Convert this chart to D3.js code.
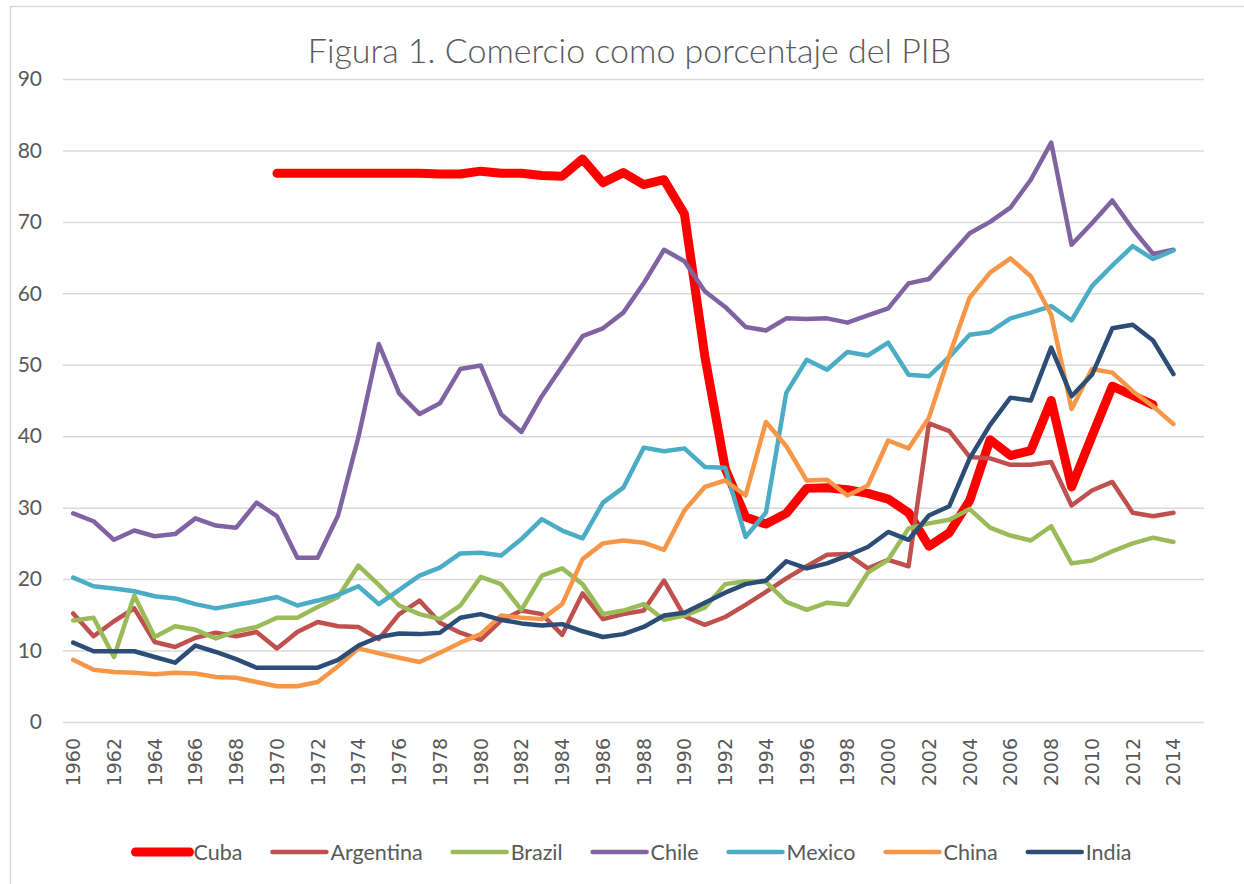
<!DOCTYPE html>
<html>
<head>
<meta charset="utf-8">
<script src="https://cdn.jsdelivr.net/npm/d3@7/dist/d3.min.js"></script>
<style>
  body { margin: 0; background: #fff; }
  text { fill: #595959; }
</style>
</head>
<body>
<div id="chart"></div>
<script>
// years on the category axis (2015 is an empty category in the original sheet)
var years = d3.range(1960, 2016);
var tickYears = d3.range(1960, 2015, 2);
var yTicks = [0, 10, 20, 30, 40, 50, 60, 70, 80, 90];

var countries = ["Cuba", "Argentina", "Brazil", "Chile", "Mexico", "China", "India"];
var colors = ["#FF0000", "#C0504D", "#9BBB59", "#8064A2", "#4BACC6", "#F79646", "#2C4D75"];

// trade as % of GDP, 1960..2014
var cuba = [null, null, null, null, null, null, null, null, null, null,
  76.8, 76.8, 76.8, 76.8, 76.8, 76.8, 76.8, 76.8, 76.7, 76.7,
  77.1, 76.8, 76.8, 76.5, 76.4, 78.8, 75.5, 76.9, 75.2, 75.9,
  71.1, 51.2, 35.5, 28.7, 27.7, 29.2, 32.7, 32.8, 32.5, 32.0,
  31.2, 29.3, 24.6, 26.5, 31.0, 39.5, 37.3, 38.0, 45.0, 32.9,
  40.0, 47.0, 45.7, 44.4, null];
var argentina = [15.2, 12.0, 14.1, 15.9, 11.2, 10.5, 11.8, 12.5, 12.0, 12.6,
  10.3, 12.6, 14.0, 13.4, 13.3, 11.6, 15.1, 17.0, 13.9, 12.5,
  11.5, 14.2, 15.6, 15.1, 12.2, 18.0, 14.4, 15.1, 15.6, 19.8,
  14.8, 13.6, 14.7, 16.4, 18.2, 20.1, 21.8, 23.4, 23.5, 21.5,
  22.7, 21.8, 41.8, 40.7, 37.1, 36.9, 36.0, 36.0, 36.4, 30.3,
  32.4, 33.6, 29.3, 28.8, 29.3];
var brazil = [14.2, 14.6, 9.1, 17.7, 11.9, 13.4, 12.9, 11.7, 12.7, 13.3,
  14.6, 14.6, 16.1, 17.5, 21.9, 19.2, 16.3, 15.1, 14.4, 16.3,
  20.3, 19.3, 15.7, 20.5, 21.5, 19.3, 15.1, 15.6, 16.5, 14.3,
  14.9, 16.0, 19.3, 19.7, 19.6, 16.8, 15.7, 16.7, 16.4, 20.9,
  22.7, 27.1, 27.8, 28.3, 29.8, 27.2, 26.1, 25.4, 27.4, 22.2,
  22.6, 23.9, 25.0, 25.8, 25.2];
var chile = [29.2, 28.1, 25.5, 26.8, 26.0, 26.3, 28.5, 27.5, 27.2, 30.7,
  28.8, 23.0, 23.0, 28.9, 39.9, 52.9, 46.0, 43.1, 44.6, 49.4,
  49.9, 43.1, 40.6, 45.6, 49.8, 54.0, 55.1, 57.3, 61.4, 66.1,
  64.5, 60.3, 58.1, 55.3, 54.8, 56.5, 56.4, 56.5, 55.9, 56.9,
  57.9, 61.4, 62.0, 65.2, 68.4, 70.0, 72.0, 75.9, 81.1, 66.8,
  69.8, 73.0, 69.0, 65.5, 66.1];
var mexico = [20.2, 19.0, 18.7, 18.3, 17.6, 17.3, 16.5, 15.9, 16.4, 16.9,
  17.5, 16.3, 17.0, 17.8, 19.0, 16.5, 18.5, 20.5, 21.6, 23.6,
  23.7, 23.3, 25.6, 28.4, 26.8, 25.7, 30.7, 32.8, 38.4, 37.9,
  38.3, 35.7, 35.6, 25.9, 29.3, 46.1, 50.7, 49.3, 51.8, 51.3,
  53.1, 48.6, 48.4, 51.1, 54.2, 54.6, 56.5, 57.3, 58.2, 56.2,
  61.0, 63.9, 66.6, 64.8, 66.0];
var china = [8.7, 7.3, 7.0, 6.9, 6.7, 6.9, 6.8, 6.3, 6.2, 5.6,
  5.0, 5.0, 5.6, 7.8, 10.3, 9.6, 9.0, 8.4, 9.7, 11.1,
  12.3, 14.9, 14.6, 14.4, 16.5, 22.8, 25.0, 25.4, 25.1, 24.1,
  29.6, 32.9, 33.8, 31.7, 42.0, 38.6, 33.8, 33.9, 31.7, 33.1,
  39.4, 38.3, 42.6, 51.3, 59.4, 62.9, 64.9, 62.4, 57.0, 43.8,
  49.4, 48.9, 46.3, 44.2, 41.7];
var india = [11.1, 9.9, 9.9, 9.9, 9.1, 8.3, 10.7, 9.8, 8.8, 7.6,
  7.6, 7.6, 7.6, 8.7, 10.7, 11.9, 12.4, 12.3, 12.5, 14.6,
  15.1, 14.3, 13.8, 13.5, 13.7, 12.7, 11.9, 12.3, 13.3, 14.9,
  15.3, 16.7, 18.1, 19.3, 19.8, 22.5, 21.5, 22.2, 23.3, 24.5,
  26.6, 25.5, 28.9, 30.2, 36.9, 41.6, 45.4, 45.0, 52.4, 45.6,
  48.6, 55.1, 55.6, 53.4, 48.7];

var seriesValues = [cuba, argentina, brazil, chile, mexico, china, india];

var width = 1244, height = 884;
var plotLeft = 63, plotRight = 1204, plotTop = 79, plotBottom = 722;

var svg = d3.select("#chart").append("svg")
            .attr("width", width)
            .attr("height", height)
            .style("font-family", "Lato, 'Open Sans', sans-serif");

// chart area border (only top and left are inside the picture)
svg.append("rect")
   .attr("x", 10.5).attr("y", 6.5)
   .attr("width", 1400).attr("height", 1000)
   .attr("fill", "none")
   .attr("stroke", "#D9D9D9")
   .attr("stroke-width", 1.5);

var x = d3.scaleBand().domain(years).range([plotLeft, plotRight]);
var y = d3.scaleLinear().domain([0, 90]).range([plotBottom, plotTop]);

// gridlines + y labels
var yAxis = d3.axisLeft(y).tickValues(yTicks)
              .tickSize(-(plotRight - plotLeft))
              .tickPadding(21);
var gy = svg.append("g")
            .attr("transform", "translate(" + plotLeft + ",0)")
            .call(yAxis);
gy.select(".domain").remove();
gy.selectAll(".tick line").attr("stroke", "#D9D9D9").attr("stroke-width", 1.5);
gy.selectAll(".tick text")
  .style("font-family", "Lato, sans-serif")
  .style("font-size", "21px")
  .attr("fill", "#595959");

// x labels, rotated
var xAxis = d3.axisBottom(x).tickValues(tickYears).tickSize(0).tickPadding(0);
var gx = svg.append("g")
            .attr("transform", "translate(0," + plotBottom + ")")
            .call(xAxis);
gx.select(".domain").remove();
gx.selectAll(".tick text")
  .style("font-family", "'DejaVu Sans', sans-serif")
  .style("font-size", "19px")
  .attr("fill", "#595959")
  .attr("transform", "rotate(-90)")
  .attr("text-anchor", "end")
  .attr("x", -16)
  .attr("y", 0)
  .attr("dy", "0.36em");

// lines
var line = d3.line()
             .defined(function(d){ return d != null; })
             .x(function(d, i){ return x(years[i]) + x.bandwidth() / 2; })
             .y(function(d){ return y(d); });

var series = countries.map(function(name, i){
  return {name: name, color: colors[i], values: seriesValues[i], width: name == "Cuba" ? 9 : 4.5};
});

svg.append("g").selectAll("path")
   .data(series)
   .enter()
   .append("path")
   .attr("d", function(d){ return line(d.values); })
   .attr("fill", "none")
   .attr("stroke", function(d){ return d.color; })
   .attr("stroke-width", function(d){ return d.width; })
   .attr("stroke-linejoin", "round")
   .attr("stroke-linecap", "round");

// title
svg.append("text")
   .attr("x", (plotLeft + plotRight) / 2 - 4)
   .attr("y", 63)
   .attr("text-anchor", "middle")
   .style("font-size", "34px")
   .style("font-weight", 300)
   .text("Figura 1. Comercio como porcentaje del PIB");

// legend
var legendY = 852, swatch = 54, gap = 4, spacing = 30;
var legend = svg.append("g");
var items = legend.selectAll("g")
                  .data(series)
                  .enter()
                  .append("g");
items.append("line")
     .attr("x1", 0).attr("x2", swatch)
     .attr("y1", 0).attr("y2", 0)
     .attr("stroke", function(d){ return d.color; })
     .attr("stroke-width", function(d){ return d.width; })
     .attr("stroke-linecap", "round");
items.append("text")
     .attr("x", swatch + gap)
     .attr("dy", "0.35em")
     .style("font-size", "21.5px")
     .text(function(d){ return d.name; });

var offset = 0;
var widths = [];
items.each(function(d){
  var w = swatch + gap + this.querySelector("text").getComputedTextLength();
  widths.push(offset);
  offset += w + spacing;
});
var total = offset - spacing;
var startX = (plotLeft + plotRight) / 2 - total / 2;
items.attr("transform", function(d, i){
  return "translate(" + (startX + widths[i]) + "," + legendY + ")";
});
</script>
</body>
</html>
